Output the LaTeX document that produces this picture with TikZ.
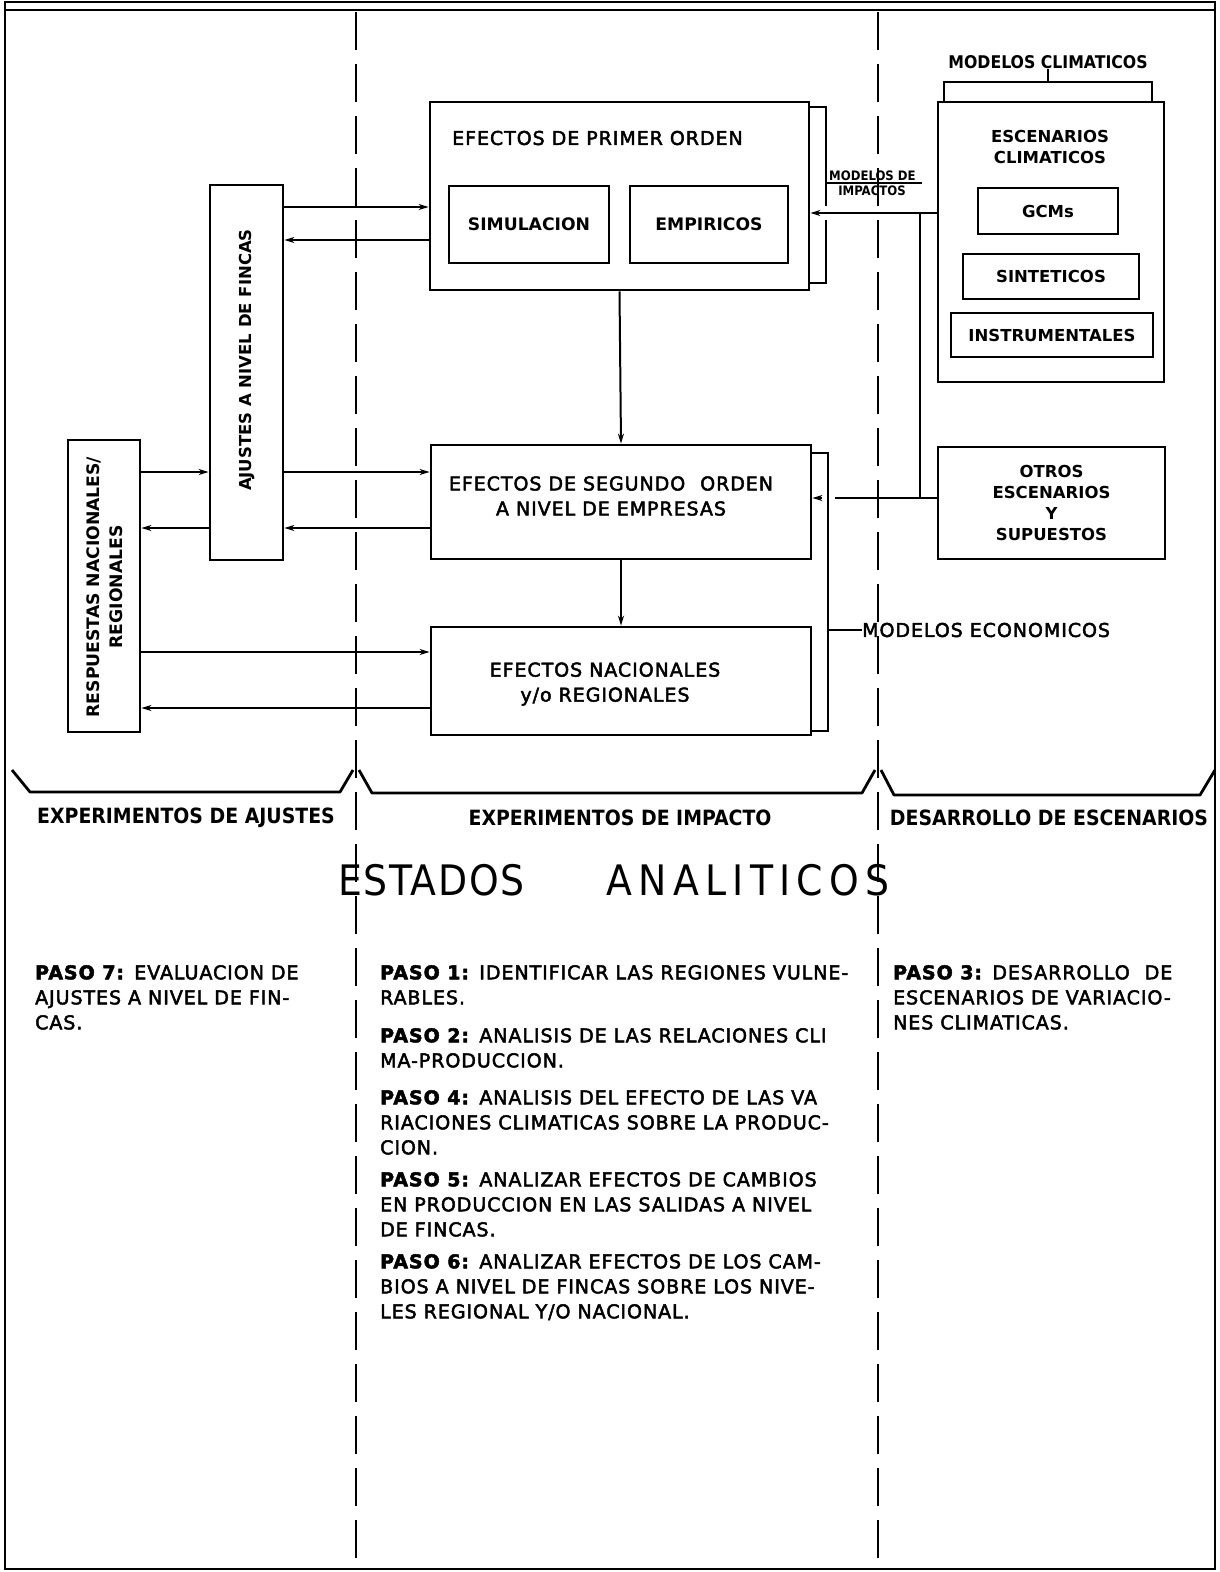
\documentclass[tikz,border=0pt]{standalone}
\usepackage{fontspec}
\setmainfont{DejaVu Sans}
\newfontfamily\condfont{DejaVu Sans Condensed}
\newfontfamily\letterfont[LetterSpace=5, FakeBold=2.5]{DejaVu Sans}
\usetikzlibrary{arrows.meta}

\newcommand{\lettersize}{\letterfont\fontsize{19}{25}\selectfont}
\newcommand{\boldsize}{\bfseries\fontsize{16.5}{21}\selectfont}
\newcommand{\headsize}{\condfont\bfseries\fontsize{21}{24}\selectfont}

\begin{document}
\begin{tikzpicture}[x=1pt, y=-1pt,
    box/.style={draw, line width=2.8pt, inner sep=0pt, align=center},
    arr/.style={-{Stealth[length=10pt,width=6pt]}, line width=2pt},
    link/.style={line width=2pt},
    sep/.style={line width=2.6pt, dash pattern=on 38pt off 14pt},
    brk/.style={line width=2.8pt, line join=round},
    txt/.style={inner sep=0pt, align=left, font=\lettersize},
    lbl/.style={inner sep=0pt, align=center, font=\boldsize}
  ]
    \useasboundingbox (0,0) rectangle (1220,1572);

    % frame and column separators
    \draw[line width=2.8pt] (5,2) rectangle (1215,1569);
    \draw[line width=2.8pt] (5,10) -- (1215,10);
    \draw[sep] (356,12) -- (356,1572);
    \draw[sep] (878,12) -- (878,1572);

    % impact boxes
    \node[box, minimum width=379pt, minimum height=188pt] (primer) at (619.5,196) {};
    \node[txt, anchor=west] (primertxt) at (452,138) {EFECTOS DE PRIMER ORDEN};
    \node[box, minimum width=160pt, minimum height=77pt, font=\bfseries\fontsize{17.2}{21}\selectfont] (simul) at (529,224.5) {SIMULACION};
    \node[box, minimum width=158pt, minimum height=77pt, font=\bfseries\fontsize{17.2}{21}\selectfont] (empir) at (709,224.5) {EMPIRICOS};
    \node[box, minimum width=380pt, minimum height=114pt] (segundo) at (621,502) {};
    \node[txt, align=center] (segundotxt) at (611,496) {EFECTOS DE SEGUNDO\hspace{8pt} ORDEN\\A NIVEL DE EMPRESAS};
    \node[box, minimum width=380pt, minimum height=108pt] (nacional) at (621,681) {};
    \node[txt, align=center] (nacionaltxt) at (605,684) {EFECTOS NACIONALES\\y/o REGIONALES};

    % adjustment boxes
    \node[box, minimum width=73pt, minimum height=375pt] (ajustes) at (246.5,372.5) {};
    \node[lbl, rotate=90] (ajustestxt) at (247,360) {AJUSTES A NIVEL DE FINCAS};
    \node[box, minimum width=72pt, minimum height=292pt] (resp) at (104,586) {};
    \node[lbl, rotate=90, font=\bfseries\fontsize{17.2}{23}\selectfont] (resptxt) at (105,587) {RESPUESTAS NACIONALES/\\REGIONALES};

    % scenario boxes
    \node[inner sep=0pt, font=\condfont\bfseries\fontsize{17.5}{20}\selectfont] (modclim) at (1048,62) {MODELOS CLIMATICOS};
    \node[box, minimum width=226pt, minimum height=280pt] (escen) at (1051,242) {};
    \node[lbl] (escentxt) at (1050,146.5) {ESCENARIOS\\CLIMATICOS};
    \node[box, minimum width=140pt, minimum height=46pt, font=\boldsize] (gcm) at (1048,211) {GCMs};
    \node[box, minimum width=176pt, minimum height=45pt, font=\boldsize] (sint) at (1051,276.5) {SINTETICOS};
    \node[box, minimum width=202pt, minimum height=44pt, font=\boldsize] (instr) at (1052,335) {INSTRUMENTALES};
    \node[box, minimum width=227pt, minimum height=112pt, font=\boldsize, text depth=0pt] (otros) at (1051.5,503) {OTROS\\ESCENARIOS\\Y\\SUPUESTOS};

    % bracket under MODELOS CLIMATICOS
    \draw[link] (944,101) -- (944,82) -- (1152,82) -- (1152,101);
    \draw[link] (1048,82) -- (modclim.south);

    % models of impacts
    \draw[link] (primer.east |- 0,107) -- (826,107) -- (826,206);
    \draw[link] (826,220) -- (826,283) -- (primer.east |- 0,283);
    \draw[link] (826,183) -- (922,183);
    \node[inner sep=0pt, anchor=south west, font=\condfont\bfseries\fontsize{13}{14}\selectfont] (impA) at (829,181) {MODELOS DE};
    \node[inner sep=0pt, anchor=north, font=\condfont\bfseries\fontsize{13}{14}\selectfont] (impB) at (872,186) {IMPACTOS};
    \draw[arr] (escen.west |- 0,213) -- (primer.east |- 0,213);
    \coordinate (jtop) at (920,213);
    \coordinate (jbot) at (920,498);
    \draw[link] (jtop) -- (jbot);

    % economic models
    \coordinate (gapR) at (835,498);
    \coordinate (gapL) at (822,498);
    \draw[link] (otros.west |- gapR) -- (gapR);
    \draw[arr] (gapL) -- (segundo.east |- gapL);
    \draw[link] (segundo.east |- 0,453) -- (828,453) -- (828,731) -- (nacional.east |- 0,731);
    \node[txt, anchor=west] (ecotxt) at (862,630) {MODELOS ECONOMICOS};
    \draw[link] (828,630) -- (ecotxt.west);

    % vertical flow
    \draw[arr] (primer.south) -- (segundo.north);
    \draw[arr] (segundo.south) -- (nacional.north);

    % left exchanges
    \draw[arr] (ajustes.east |- 0,207) -- (primer.west |- 0,207);
    \draw[arr] (primer.west |- 0,240) -- (ajustes.east |- 0,240);
    \draw[arr] (ajustes.east |- 0,472) -- (segundo.west |- 0,472);
    \draw[arr] (segundo.west |- 0,528) -- (ajustes.east |- 0,528);
    \draw[arr] (resp.east |- 0,472) -- (ajustes.west |- 0,472);
    \draw[arr] (ajustes.west |- 0,528) -- (resp.east |- 0,528);
    \draw[arr] (resp.east |- 0,652) -- (nacional.west |- 0,652);
    \draw[arr] (nacional.west |- 0,708) -- (resp.east |- 0,708);

    % column brackets and headings
    \draw[brk] (12,770) -- (30,792) -- (340,792) -- (353,770);
    \draw[brk] (359,770) -- (372,793) -- (862,793) -- (875,770);
    \draw[brk] (881,770) -- (894,795) -- (1200,795) -- (1215,770);
    \node[inner sep=0pt, font=\headsize] (colA) at (186,818) {EXPERIMENTOS DE AJUSTES};
    \node[inner sep=0pt, font=\headsize] (colB) at (620,818) {EXPERIMENTOS DE IMPACTO};
    \node[inner sep=0pt, font=\headsize] (colC) at (1049,818) {DESARROLLO DE ESCENARIOS};
    \node[inner sep=0pt, anchor=west, font=\condfont\fontsize{42}{42}\selectfont] (titulo) at (338,880)
      {{\addfontfeature{LetterSpace=4}ESTADOS}\hspace{82pt}{\addfontfeature{LetterSpace=15}ANALITICOS}};

    % steps
    \node[txt, anchor=north west] (paso7) at (35,965) {\textbf{PASO 7:} EVALUACION DE\\AJUSTES A NIVEL DE FIN-\\CAS.};
    \node[txt, anchor=north west] (paso1) at (380,965) {\textbf{PASO 1:} IDENTIFICAR LAS REGIONES VULNE-\\RABLES.};
    \node[txt, anchor=north west] (paso2) at (380,1028) {\textbf{PASO 2:} ANALISIS DE LAS RELACIONES CLI\\MA-PRODUCCION.};
    \node[txt, anchor=north west] (paso4) at (380,1090) {\textbf{PASO 4:} ANALISIS DEL EFECTO DE LAS VA\\RIACIONES CLIMATICAS SOBRE LA PRODUC-\\CION.};
    \node[txt, anchor=north west] (paso5) at (380,1172) {\textbf{PASO 5:} ANALIZAR EFECTOS DE CAMBIOS\\EN PRODUCCION EN LAS SALIDAS A NIVEL\\DE FINCAS.};
    \node[txt, anchor=north west] (paso6) at (380,1254) {\textbf{PASO 6:} ANALIZAR EFECTOS DE LOS CAM-\\BIOS A NIVEL DE FINCAS SOBRE LOS NIVE-\\LES REGIONAL Y/O NACIONAL.};
    \node[txt, anchor=north west] (paso3) at (893,965) {\textbf{PASO 3:} DESARROLLO\hspace{8pt} DE\\ESCENARIOS DE VARIACIO-\\NES CLIMATICAS.};
  \end{tikzpicture}
\end{document}
